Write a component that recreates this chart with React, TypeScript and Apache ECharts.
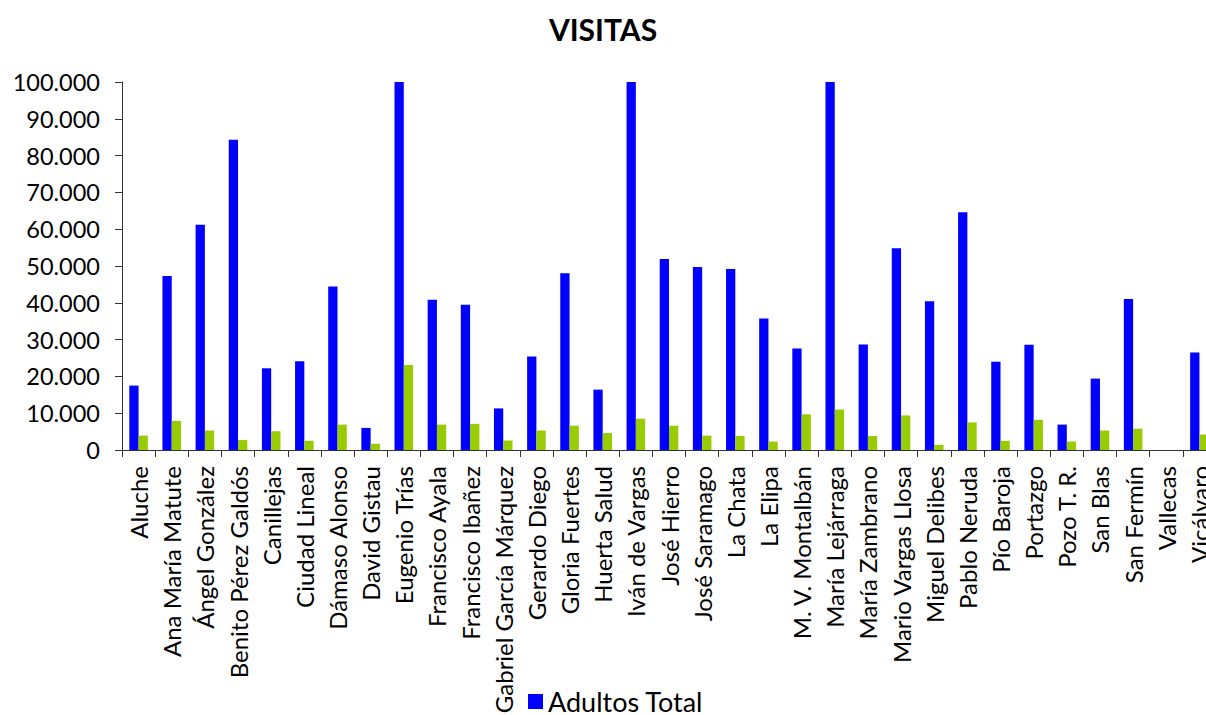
import React, { useEffect, useRef } from "react";
import * as echarts from "echarts";

const categories = [
  "Aluche", "Ana María Matute", "Ángel González", "Benito Pérez Galdós", "Canillejas",
  "Ciudad Lineal", "Dámaso Alonso", "David Gistau", "Eugenio Trías", "Francisco Ayala",
  "Francisco Ibañez", "Gabriel García Márquez", "Gerardo Diego", "Gloria Fuertes", "Huerta Salud",
  "Iván de Vargas", "José Hierro", "José Saramago", "La Chata", "La Elipa",
  "M. V. Montalbán", "María Lejárraga", "María Zambrano", "Mario Vargas Llosa", "Miguel Delibes",
  "Pablo Neruda", "Pío Baroja", "Portazgo", "Pozo T. R.", "San Blas",
  "San Fermín", "Vallecas", "Vicálvaro",
];

const adultosTotal = [
  17500, 47300, 61200, 84300, 22200, 24100, 44400, 6000, 110000, 40800,
  39500, 11300, 25400, 48000, 16400, 110000, 51900, 49700, 49200, 35700,
  27600, 110000, 28700, 54800, 40400, 64600, 24000, 28600, 6900, 19400,
  41000, 0, 26500,
];

const infantilTotal = [
  3900, 7900, 5300, 2700, 5100, 2500, 6900, 1700, 23100, 6900,
  7100, 2600, 5300, 6600, 4600, 8500, 6600, 3900, 3800, 2300,
  9700, 11000, 3800, 9400, 1400, 7500, 2500, 8200, 2300, 5300,
  5800, 0, 4200,
];

const yMin = 0;
const yMax = 100000;
const yInterval = 10000;

const fmt = (v: number) => String(v).replace(/\B(?=(\d{3})+(?!\d))/g, ".");

export default function App() {
  const ref = useRef<HTMLDivElement>(null);
  useEffect(() => {
    if (!ref.current) return;
    const chart = echarts.init(ref.current, null, { renderer: "svg" });
    const font = "Lato";
    chart.setOption({
      animation: false,
      backgroundColor: "#ffffff",
      title: {
        text: "VISITAS",
        left: "center",
        top: 9,
        textStyle: { fontFamily: font, fontSize: 30, fontWeight: "bold", color: "#000" },
      },
      legend: {
        data: ["Adultos Total"],
        left: 528,
        top: 688,
        padding: 0,
        itemWidth: 15,
        itemHeight: 15,
        itemGap: 10,
        icon: "rect",
        textStyle: { fontFamily: font, fontSize: 27, color: "#000" },
      },
      grid: {
        left: 122,
        top: 82,
        height: 368,
        width: 1094,
        containLabel: false,
        outerBoundsMode: "none",
      },
      xAxis: {
        type: "category",
        data: categories,
        boundaryGap: true,
        axisLine: { show: true, lineStyle: { color: "#333", width: 1 } },
        axisTick: { show: true, length: 7, lineStyle: { color: "#333" } },
        axisLabel: {
          interval: 0,
          rotate: 90,
          margin: 16,
          fontFamily: font,
          fontSize: 24,
          color: "#000",
          hideOverlap: false,
        },
        splitLine: { show: false },
      },
      yAxis: {
        type: "value",
        min: yMin,
        max: yMax,
        interval: yInterval,
        axisLine: { show: true, lineStyle: { color: "#333", width: 1 } },
        axisTick: { show: true, length: 7, lineStyle: { color: "#333" } },
        axisLabel: {
          margin: 22,
          fontFamily: font,
          fontSize: 23.5,
          color: "#000",
          formatter: (v: number) => fmt(v),
        },
        splitLine: { show: false },
      },
      series: [
        {
          name: "Adultos Total",
          type: "bar",
          data: adultosTotal,
          barGap: "0%",
          barCategoryGap: "44%",
          clip: true,
          itemStyle: { color: "#0000FF" },
        },
        {
          name: "Infantil Total",
          type: "bar",
          data: infantilTotal,
          barGap: "0%",
          barCategoryGap: "44%",
          clip: true,
          itemStyle: { color: "#99CC00" },
        },
      ],
    });
    return () => chart.dispose();
  }, []);
  return (
    <div
      ref={ref}
      style={{ position: "fixed", left: 0, top: 0, width: 1206, height: 715, background: "#fff" }}
    />
  );
}
